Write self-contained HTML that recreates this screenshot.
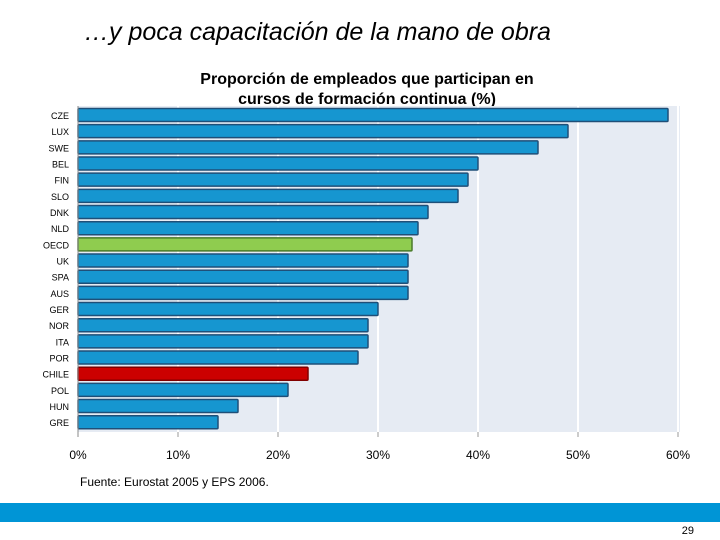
<!DOCTYPE html>
<html><head><meta charset="utf-8"><style>
body{margin:0;width:720px;height:540px;background:#fff;position:relative;overflow:hidden;font-family:"Liberation Sans",sans-serif}
#title{position:absolute;left:84px;top:18px;font-size:25px;font-style:italic;color:#000;white-space:nowrap}
#band{position:absolute;left:0;top:503px;width:720px;height:19px;background:#0095d6}
#pg{position:absolute;right:26px;top:525px;font-size:11px}
</style></head><body>
<div id="title">…y poca capacitación de la mano de obra</div>
<svg id="chart" width="720" height="500" style="position:absolute;left:0;top:0"></svg>
<div id="band"></div>
<div id="pg">29</div>
<script>
const categories=["CZE","LUX","SWE","BEL","FIN","SLO","DNK","NLD","OECD","UK","SPA","AUS","GER","NOR","ITA","POR","CHILE","POL","HUN","GRE"];
const values=[59,49,46,40,39,38,35,34,33.4,33,33,33,30,29,29,28,23,21,16,14];
const ticks=[0,10,20,30,40,50,60];
const NS="http://www.w3.org/2000/svg";
const svg=document.getElementById('chart');
const x=v=>78+v*10;
const y=i=>115+i*16.17;
function mk(t,a){const e=document.createElementNS(NS,t);for(const k in a)e.setAttribute(k,a[k]);svg.appendChild(e);return e;}
let t=mk('text',{x:367,y:84,'text-anchor':'middle','font-size':16,'font-weight':'bold'});t.textContent="Proporción de empleados que participan en";


t=mk('text',{x:367,y:104,'text-anchor':'middle','font-size':16,'font-weight':'bold'});t.textContent="cursos de formación continua (%)";


let bg=mk('rect',{x:78,y:106,width:602,height:326,fill:'#e6ebf3'});


ticks.forEach(v=>{
 if(v>0){let g=mk('line',{x1:x(v),x2:x(v),y1:106,y2:432,stroke:'#fff','stroke-width':2});
 
 }
 let tk=mk('line',{x1:x(v),x2:x(v),y1:432,y2:437,stroke:'#999'});
 
 
 let l=mk('text',{x:x(v),y:459,'text-anchor':'middle','font-size':12});l.textContent=v+'%';
 
 
});
categories.forEach((c,i)=>{
 const fill=c==='OECD'?'#8fcc4f':c==='CHILE'?'#cc0000':'#1696d0';
 const stroke=c==='OECD'?'#4a7a2a':c==='CHILE'?'#800000':'#1f4f78';
 let b=mk('rect',{x:x(0),y:y(i)-6.5,width:x(values[i])-x(0),height:13,fill:fill,stroke:stroke,'stroke-width':1.5,rx:1});
 
 
 let l=mk('text',{x:69,y:y(i)+4,'text-anchor':'end','font-size':9});l.textContent=c;
 
 
});
let ax=mk('line',{x1:78,x2:78,y1:106,y2:437,stroke:'#888'});


t=mk('text',{x:80,y:486,'font-size':12});t.textContent="Fuente: Eurostat 2005 y EPS 2006.";


</script>
</body></html>
